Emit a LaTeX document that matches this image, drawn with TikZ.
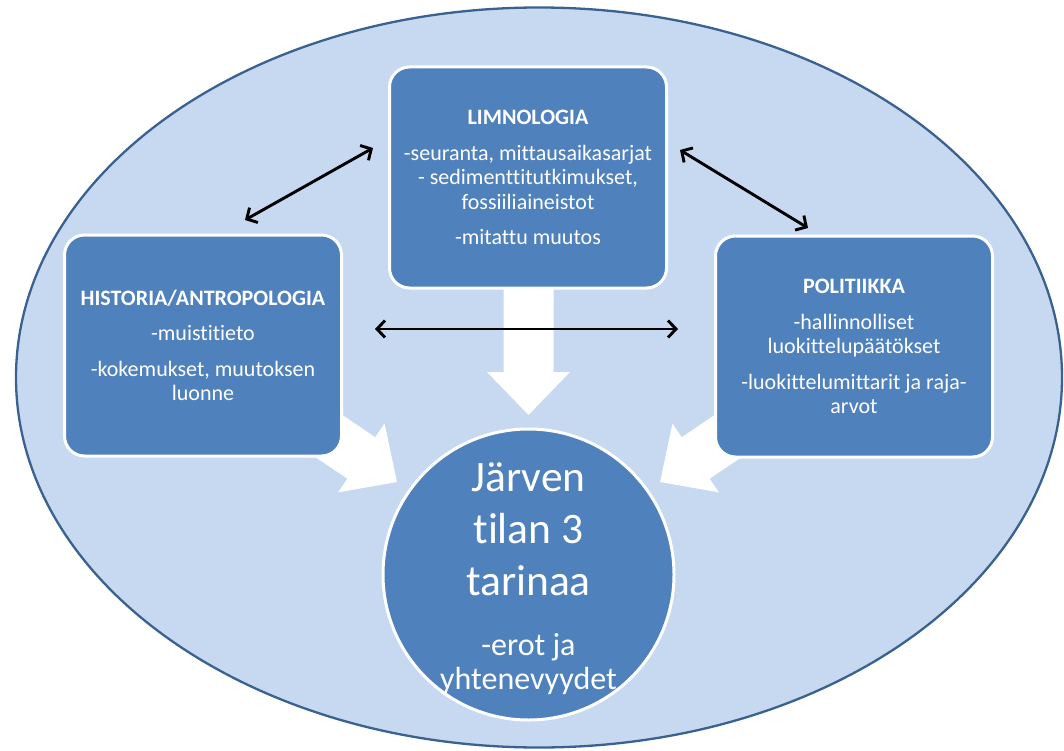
\documentclass[tikz,border=0pt]{standalone}
\usepackage{fontspec}
\setmainfont[Ligatures={NoCommon}]{Carlito}
\usetikzlibrary{arrows.meta}
\definecolor{bgblue}{HTML}{C6D9F1}
\definecolor{edgeblue}{HTML}{3A6190}
\definecolor{boxblue}{HTML}{4F81BD}
\begin{document}
\begin{tikzpicture}[x=1pt,y=-1pt,
  boxnode/.style={draw=white, line width=3pt, fill=boxblue, rounded corners=20pt,
    minimum width=277pt, minimum height=221pt, text=white, align=center,
    font=\fontsize{22}{24.5}\selectfont, inner sep=0pt},
  hubnode/.style={circle, draw=white, line width=3pt, fill=boxblue, minimum size=291pt, inner sep=0pt},
  bigtext/.style={text=white, align=center, font=\fontsize{43.5}{52}\selectfont, inner sep=0pt},
  subtext/.style={text=white, align=center, font=\fontsize{32}{34}\selectfont, inner sep=0pt},
  dbl/.style={{Straight Barb[length=8pt,width=17pt]}-{Straight Barb[length=8pt,width=17pt]}, line width=2.9pt, black},
  blockarrow/.pic={\fill[white] (0,-25) -- (87,-25) -- (87,-41.5) -- (130,0) -- (87,41.5) -- (87,25) -- (0,25) -- cycle;}
]
\useasboundingbox (0,0) rectangle (1064,751);
\fill[white] (0,0) rectangle (1064,751);
% outer ellipse
\draw[fill=bgblue, draw=edgeblue, line width=2.3pt] (539,377.5) ellipse [x radius=523pt, y radius=370pt];
% white block arrows
\pic[rotate=-90] at (528.5,285) {blockarrow};
\pic[rotate=-34] at (289.2,409.3) {blockarrow};
\pic[rotate=-146] at (767.8,409.3) {blockarrow};
% boxes
\node[boxnode] (limn) at (528,177.5) {\textbf{LIMNOLOGIA}\\[11pt]-seuranta, mittausaikasarjat\\- sedimenttitutkimukset,\\fossiiliaineistot\\[11pt]-mitattu muutos};
\node[boxnode] (hist) at (203,345.5) {\textbf{HISTORIA/ANTROPOLOGIA}\\[11pt]-muistitieto\\[11pt]-kokemukset, muutoksen\\luonne};
\node[boxnode] (poli) at (854,346.5) {\textbf{POLITIIKKA}\\[11pt]-hallinnolliset\\luokittelupäätökset\\[11pt]-luokittelumittarit ja raja-\\arvot};
% centre circle
\node[hubnode] (hub) at (528.5,574.5) {};
\node[bigtext] (title) at (528.5,529.5) {Järven\\tilan 3\\tarinaa};
\node[subtext] (sub) at (528.5,664.5) {-erot ja\\yhtenevyydet};
% double arrows
\coordinate (hl) at (245,220);
\coordinate (lt) at (373,148);
\coordinate (lr) at (680,150);
\coordinate (pr) at (808,228);
\coordinate (hm) at (375,329);
\coordinate (pm) at (678,329);
\draw[dbl] (hl) -- (lt);
\draw[dbl] (lr) -- (pr);
\draw[dbl] (hm) -- (pm);
\end{tikzpicture}
\end{document}
